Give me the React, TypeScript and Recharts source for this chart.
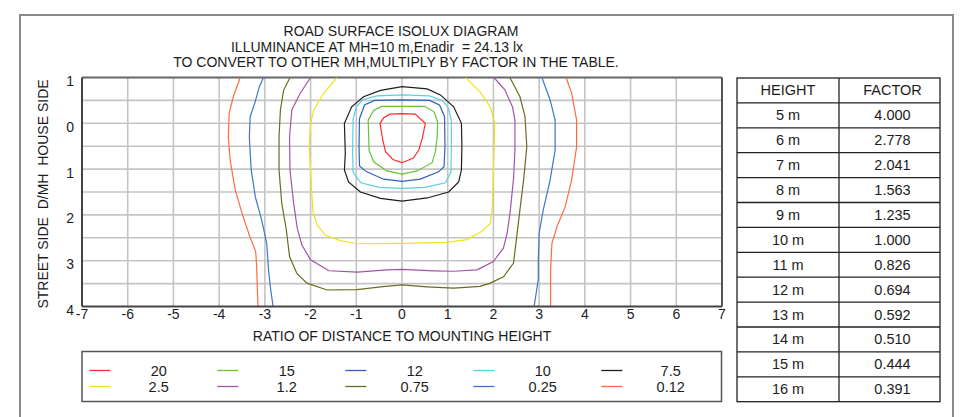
import React from 'react';
import { ComposedChart, Line, XAxis, YAxis, CartesianGrid, ReferenceLine } from 'recharts';

// ---- data ----
const titleLines = [
  'ROAD SURFACE ISOLUX DIAGRAM',
  'ILLUMINANCE AT MH=10 m,Enadir  = 24.13 lx',
  'TO CONVERT TO OTHER MH,MULTIPLY BY FACTOR IN THE TABLE.',
];
const xTitle = 'RATIO OF DISTANCE TO MOUNTING HEIGHT';
const yTitle = 'STREET SIDE  D/MH  HOUSE SIDE';

const xTicks = [-7, -6, -5, -4, -3, -2, -1, 0, 1, 2, 3, 4, 5, 6, 7];
const yTicks = [-1, 0, 1, 2, 3, 4];
const gridX = [-6, -5, -4, -3, -2, -1, 0, 1, 2, 3, 4, 5, 6];
const gridY = [-0.5, 0, 0.5, 1, 1.5, 2, 2.5, 3, 3.5];

const levels = ['20', '15', '12', '10', '7.5', '2.5', '1.2', '0.75', '0.25', '0.12'];

const tableHeights = ['5 m', '6 m', '7 m', '8 m', '9 m', '10 m', '11 m', '12 m', '13 m', '14 m', '15 m', '16 m'];
const tableFactors = ['4.000', '2.778', '2.041', '1.563', '1.235', '1.000', '0.826', '0.694', '0.592', '0.510', '0.444', '0.391'];

const toPts = (a: number[][]) => a.map(([x, y]) => ({ x, y }));

const c20 = toPts([[-0.26,-0.2],[0,-0.21],[0.29,-0.2],[0.51,0.0],[0.45,0.3],[0.37,0.58],[0.25,0.76],[0,0.86],[-0.2,0.79],[-0.36,0.62],[-0.42,0.37],[-0.48,0.0],[-0.4,-0.12],[-0.26,-0.2]]);
const c15 = toPts([[0,-0.37],[0.5,-0.37],[0.7,-0.25],[0.78,-0.03],[0.77,0.3],[0.73,0.62],[0.66,0.86],[0.33,1.04],[0,1.11],[-0.33,1.04],[-0.62,0.84],[-0.72,0.59],[-0.74,-0.07],[-0.62,-0.28],[-0.45,-0.37],[0,-0.37]]);
const c12 = toPts([[0,-0.51],[0.6,-0.5],[0.82,-0.4],[0.93,-0.15],[0.94,0.5],[0.92,0.95],[0.8,1.06],[0.4,1.22],[0,1.27],[-0.4,1.22],[-0.77,1.06],[-0.93,0.93],[-0.94,0.5],[-0.93,-0.1],[-0.82,-0.4],[-0.6,-0.5],[0,-0.51]]);
const c10 = toPts([[0,-0.62],[0.6,-0.6],[0.88,-0.5],[1.02,-0.33],[1.08,-0.05],[1.08,0.6],[1.07,1.07],[0.95,1.3],[0.5,1.4],[0,1.42],[-0.5,1.4],[-0.9,1.3],[-1.07,1.07],[-1.08,0.6],[-1.07,-0.1],[-1.0,-0.36],[-0.85,-0.52],[-0.55,-0.6],[0,-0.62]]);
const c7_5 = toPts([[0,-0.8],[0.55,-0.75],[0.84,-0.62],[1.13,-0.36],[1.3,0.0],[1.31,0.5],[1.3,1.02],[1.24,1.28],[1.02,1.5],[0.55,1.63],[0,1.7],[-0.47,1.64],[-0.91,1.5],[-1.17,1.28],[-1.26,1.02],[-1.24,0.66],[-1.26,0.0],[-1.1,-0.36],[-0.84,-0.58],[-0.47,-0.72],[0,-0.8]]);
const c2_5 = toPts([[-1.42,-1],[-1.72,-0.65],[-1.93,-0.29],[-2.0,0.0],[-2.03,0.51],[-1.99,1.24],[-1.95,1.9],[-1.86,2.22],[-1.68,2.44],[-1.35,2.56],[-0.98,2.63],[0,2.62],[0.98,2.6],[1.42,2.54],[1.72,2.38],[1.92,2.2],[1.97,1.96],[2.0,1.02],[2.03,0.0],[1.93,-0.36],[1.72,-0.67],[1.39,-1]]);
const c1_2 = toPts([[-2.0,-1],[-2.23,-0.65],[-2.41,-0.29],[-2.46,0.3],[-2.45,1.02],[-2.37,1.75],[-2.29,2.3],[-2.19,2.66],[-2.0,2.98],[-1.6,3.22],[-0.98,3.25],[-0.33,3.2],[0,3.19],[0.69,3.22],[1.13,3.23],[1.64,3.2],[2.0,3.02],[2.22,2.72],[2.3,2.4],[2.37,1.9],[2.44,1.2],[2.47,0.6],[2.47,-0.07],[2.42,-0.35],[2.25,-0.73],[2.01,-1]]);
const c0_75 = toPts([[-2.45,-1],[-2.59,-0.72],[-2.66,-0.29],[-2.69,0.3],[-2.69,1.02],[-2.63,1.75],[-2.53,2.33],[-2.46,2.91],[-2.3,3.28],[-2.08,3.49],[-1.64,3.64],[-0.98,3.63],[-0.47,3.57],[0,3.53],[0.55,3.57],[1.13,3.6],[1.71,3.56],[1.93,3.49],[2.22,3.35],[2.44,3.05],[2.51,2.47],[2.58,1.89],[2.66,1.24],[2.73,0.51],[2.69,-0.15],[2.58,-0.58],[2.36,-1]]);
const c0_25L = toPts([[-3.03,-1],[-3.12,-0.8],[-3.22,-0.44],[-3.32,-0.15],[-3.34,0.3],[-3.3,1.0],[-3.21,1.6],[-3.07,2.11],[-2.96,2.62],[-2.92,3.2],[-2.88,3.57],[-2.82,4]]);
const c0_25R = toPts([[3.06,-1],[3.24,-0.51],[3.35,-0.07],[3.35,0.58],[3.24,1.24],[3.09,1.89],[3.0,2.4],[2.98,3.05],[2.98,3.42],[2.89,4]]);
const c0_12L = toPts([[-3.54,-1],[-3.69,-0.58],[-3.78,-0.22],[-3.8,0.29],[-3.76,0.8],[-3.65,1.45],[-3.5,1.96],[-3.33,2.47],[-3.2,2.8],[-3.18,3.13],[-3.15,4]]);
const c0_12R = toPts([[3.59,-1],[3.71,-0.66],[3.82,-0.07],[3.82,0.51],[3.71,1.24],[3.57,1.82],[3.39,2.26],[3.28,2.62],[3.25,3.2],[3.25,4]]);

// ---- styles ----
const levelColors = ['#ff2b2b', '#66c23a', '#2f5fbf', '#5ccfe0', '#1e1e1e', '#f2e21e', '#a452aa', '#6b6b1f', '#3b78c8', '#ff6a40'];

const contours: { id: string; data: { x: number; y: number }[]; level: number }[] = [
  { id: 'c20', data: c20, level: 0 },
  { id: 'c15', data: c15, level: 1 },
  { id: 'c12', data: c12, level: 2 },
  { id: 'c10', data: c10, level: 3 },
  { id: 'c7_5', data: c7_5, level: 4 },
  { id: 'c2_5', data: c2_5, level: 5 },
  { id: 'c1_2', data: c1_2, level: 6 },
  { id: 'c0_75', data: c0_75, level: 7 },
  { id: 'c0_25L', data: c0_25L, level: 8 },
  { id: 'c0_25R', data: c0_25R, level: 8 },
  { id: 'c0_12L', data: c0_12L, level: 9 },
  { id: 'c0_12R', data: c0_12R, level: 9 },
];

const minorX: number[] = [];
for (let i = 0; i <= 70; i++) minorX.push(Math.round((-7 + i * 0.2) * 10) / 10);
const minorY: number[] = [];
for (let i = 0; i <= 25; i++) minorY.push(Math.round((-1 + i * 0.2) * 10) / 10);

const FONT = '"Liberation Sans", Arial, Helvetica, sans-serif';
const TXT = '#1c1c1c';

const YTick = (props: any) => {
  const { x, y, payload } = props;
  return (
    <text x={x} y={y} dy={8.5} textAnchor="end" fontSize={14} fill={TXT} fontFamily={FONT}>
      {Math.abs(payload.value)}
    </text>
  );
};
const XTick = (props: any) => {
  const { x, y, payload } = props;
  return (
    <text x={x} y={y} dy={4.5} textAnchor="middle" fontSize={14} fill={TXT} fontFamily={FONT}>
      {payload.value}
    </text>
  );
};

export default function App() {
  const tX0 = 737, tX1 = 839, tX2 = 940, tY0 = 78, rowH = 24.9;
  const rows = tableHeights.length + 1;
  return (
    <div style={{ position: 'absolute', left: 0, top: 0, width: 960, height: 417, overflow: 'hidden', background: '#fff', fontFamily: FONT }}>
      <div style={{ position: 'absolute', left: 0, top: 0 }}>
        <ComposedChart width={960} height={417} margin={{ top: 77.5, right: 238, bottom: 80.5, left: 52 }}>
          <CartesianGrid horizontalValues={gridY} verticalValues={gridX} stroke="#c4c4c4" strokeWidth={1.6} />
          <XAxis type="number" dataKey="x" domain={[-7, 7]} ticks={xTicks} allowDataOverflow interval={0}
            height={30} tickLine={false} axisLine={{ stroke: '#444', strokeWidth: 2 }} tick={<XTick />} />
          <XAxis xAxisId="minor" type="number" dataKey="x" domain={[-7, 7]} ticks={minorX} allowDataOverflow interval={0}
            mirror tick={false} tickSize={5} tickLine={{ stroke: '#333', strokeWidth: 1.3 }} axisLine={false} />
          <YAxis type="number" dataKey="y" domain={[-1, 4]} reversed ticks={yTicks} allowDataOverflow interval={0}
            width={30} tickLine={false} axisLine={{ stroke: '#444', strokeWidth: 2 }} tick={<YTick />} />
          <YAxis yAxisId="minor" type="number" dataKey="y" domain={[-1, 4]} reversed ticks={minorY} allowDataOverflow interval={0}
            mirror tick={false} tickSize={7} tickLine={{ stroke: '#333', strokeWidth: 1.3 }} axisLine={false} />
          <ReferenceLine y={-1} stroke="#666" strokeWidth={2} />
          <ReferenceLine x={7} stroke="#555" strokeWidth={2} />
          {contours.map((c) => (
            <Line key={c.id} data={c.data} dataKey="y" type="linear" stroke={levelColors[c.level]} strokeWidth={1.2}
              dot={false} activeDot={false} isAnimationActive={false} />
          ))}
        </ComposedChart>
      </div>
      <svg width={960} height={417} style={{ position: 'absolute', left: 0, top: 0, pointerEvents: 'none' }} fontFamily={FONT}>
        <rect x={20} y={15} width={933} height={420} fill="none" stroke="#8a8a8a" strokeWidth={2} />
        <text x={401} y={36} textAnchor="middle" fontSize={14} fill={TXT}>{titleLines[0]}</text>
        <text x={377} y={51.5} textAnchor="middle" fontSize={14} fill={TXT} style={{ whiteSpace: 'pre' }}>{titleLines[1]}</text>
        <text x={396} y={67} textAnchor="middle" fontSize={14} fill={TXT}>{titleLines[2]}</text>
        <text x={402} y={341} textAnchor="middle" fontSize={14} fill={TXT}>{xTitle}</text>
        <text transform="translate(48,194) rotate(-90)" textAnchor="middle" fontSize={14} fill={TXT} style={{ whiteSpace: 'pre' }}>{yTitle}</text>
        {/* legend */}
        <rect x={82} y={351.5} width={639.5} height={50} fill="none" stroke="#555" strokeWidth={1.5} />
        {levels.map((lv, i) => {
          const col = i % 5, row = Math.floor(i / 5);
          const lx = 89.3 + 128 * col, ly = 370.5 + 16 * row;
          return (
            <g key={lv}>
              <line x1={lx} x2={lx + 21} y1={ly} y2={ly} stroke={levelColors[i]} strokeWidth={1.3} />
              <text x={158.7 + 128 * col} y={ly + 5} textAnchor="middle" fontSize={14.5} fill={TXT}>{lv}</text>
            </g>
          );
        })}
        {/* table */}
        <rect x={tX0} y={tY0} width={tX2 - tX0} height={rows * rowH} fill="none" stroke="#222" strokeWidth={1.3} />
        <line x1={tX1} x2={tX1} y1={tY0} y2={tY0 + rows * rowH} stroke="#222" strokeWidth={1.3} />
        {Array.from({ length: rows - 1 }).map((_, i) => (
          <line key={i} x1={tX0} x2={tX2} y1={tY0 + (i + 1) * rowH} y2={tY0 + (i + 1) * rowH} stroke="#222" strokeWidth={1.3} />
        ))}
        <text x={(tX0 + tX1) / 2} y={tY0 + rowH / 2 + 5} textAnchor="middle" fontSize={14.5} fill={TXT}>HEIGHT</text>
        <text x={(tX1 + tX2) / 2 + 3} y={tY0 + rowH / 2 + 5} textAnchor="middle" fontSize={14.5} fill={TXT}>FACTOR</text>
        {tableHeights.map((h, i) => (
          <g key={h}>
            <text x={(tX0 + tX1) / 2} y={tY0 + (i + 1.5) * rowH + 5} textAnchor="middle" fontSize={14.5} fill={TXT}>{h}</text>
            <text x={(tX1 + tX2) / 2 + 3} y={tY0 + (i + 1.5) * rowH + 5} textAnchor="middle" fontSize={14.5} fill={TXT}>{tableFactors[i]}</text>
          </g>
        ))}
      </svg>
    </div>
  );
}
